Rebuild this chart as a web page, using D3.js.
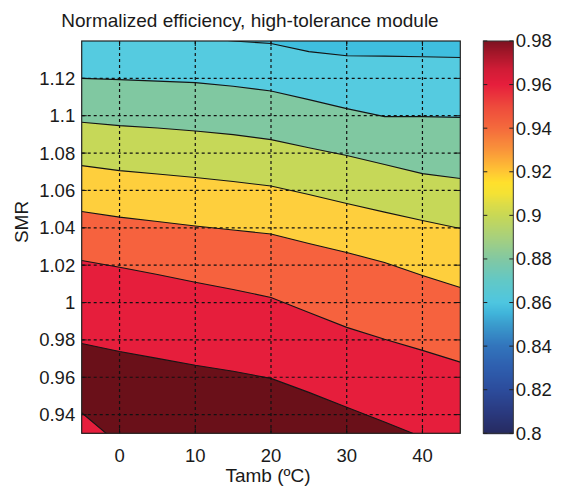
<!DOCTYPE html>
<html>
<head>
<meta charset="utf-8">
<script src="https://cdn.jsdelivr.net/npm/d3@7/dist/d3.min.js"></script>
<style>
  html, body { margin: 0; padding: 0; background: #ffffff; }
  svg { display: block; }
  text { font-family: "Liberation Sans", Arial, Helvetica, sans-serif; fill: #1a1a1a; }
</style>
</head>
<body>
<svg id="chart" width="563" height="487"></svg>
<script>
// ---------------- DATA ----------------
const chartTitle = "Normalized efficiency, high-tolerance module";
const xLabel = "Tamb (ºC)";
const yLabel = "SMR";
const xDomain = [-5, 45];
const yDomain = [0.93, 1.14];
const xTicks = [0, 10, 20, 30, 40];
const yTicks = [0.94, 0.96, 0.98, 1.00, 1.02, 1.04, 1.06, 1.08, 1.10, 1.12];
const cbDomain = [0.80, 0.98];
const cbTicks = [0.80, 0.82, 0.84, 0.86, 0.88, 0.90, 0.92, 0.94, 0.96, 0.98];

// Tamb sample points for the contour lines
const tamb = [-5, 0, 5, 10, 15, 20, 25, 30, 35, 40, 45];
// SMR position of each contour line at those Tamb values (top to bottom)
const lineA = [1.1480, 1.1460, 1.1440, 1.1420, 1.1400, 1.1387, 1.1343, 1.1321, 1.1319, 1.1316, 1.1312];
const lineB = [1.1200, 1.1193, 1.1185, 1.1177, 1.1158, 1.1132, 1.1086, 1.1038, 1.0995, 1.0995, 1.0991];
const lineC = [1.0965, 1.0947, 1.0934, 1.0918, 1.0899, 1.0872, 1.0829, 1.0787, 1.0739, 1.0690, 1.0664];
const lineD = [1.0733, 1.0706, 1.0688, 1.0669, 1.0648, 1.0624, 1.0578, 1.0530, 1.0484, 1.0439, 1.0396];
const lineE = [1.0487, 1.0457, 1.0434, 1.0410, 1.0388, 1.0367, 1.0316, 1.0268, 1.0214, 1.0145, 1.0081];
const lineF = [1.0225, 1.0189, 1.0150, 1.0109, 1.0070, 1.0027, 0.9947, 0.9867, 0.9803, 0.9744, 0.9681];
const lineG = [0.9781, 0.9738, 0.9701, 0.9664, 0.9632, 0.9594, 0.9519, 0.9439, 0.9361, 0.9279, 0.9198];
const lineH = [0.9410, 0.9239, 0.9070, 0.8900, 0.8730, 0.8560, 0.8390, 0.8220, 0.8050, 0.7880, 0.7710];

// fill colour of each band: band above lineA, then below A, B, ... H
const bandTop = "#3fbfdf";
const bandBelowA = "#55cbe0";
const bandBelowB = "#80c8a1";
const bandBelowC = "#c6d858";
const bandBelowD = "#fecf3d";
const bandBelowE = "#f6623e";
const bandBelowF = "#e61e3c";
const bandBelowG = "#6a1019";
const bandBelowH = "#e61e3c";

// colour bar stops
const cbStopValues = [0.800, 0.810, 0.820, 0.830, 0.840, 0.850, 0.855, 0.860, 0.870, 0.880, 0.890, 0.900, 0.905, 0.910, 0.915, 0.920, 0.930, 0.940, 0.950, 0.960, 0.967, 0.975, 0.980];
const cbStopColors = ["#262a60", "#2a3a80", "#2c4c9c", "#2e5eae", "#3274bc", "#3a9ccd", "#40b4da", "#4ec6e0", "#62c8c6", "#82c8a2", "#a8d07c", "#c8d855", "#dcdc48", "#f4e234", "#ffe02c", "#ffc634", "#f9943a", "#f46a3c", "#ee4a3c", "#e61e3c", "#d01c36", "#a01628", "#7c1220"];

// ---------------- LAYOUT ----------------
const plot = { left: 81.7, right: 460.3, top: 41, bottom: 433.3 };
const cb = { left: 483.3, right: 513.3, top: 41, bottom: 433.3 };

const svg = d3.select("#chart");
svg.append("rect").attr("width", 563).attr("height", 487).attr("fill", "#ffffff");

const x = d3.scaleLinear().domain(xDomain).range([plot.left, plot.right]);
const y = d3.scaleLinear().domain(yDomain).range([plot.bottom, plot.top]);

svg.append("clipPath").attr("id", "plotclip")
  .append("rect")
  .attr("x", plot.left).attr("y", plot.top)
  .attr("width", plot.right - plot.left).attr("height", plot.bottom - plot.top);

const g = svg.append("g").attr("clip-path", "url(#plotclip)");

// base band
g.append("rect")
  .attr("x", plot.left).attr("y", plot.top)
  .attr("width", plot.right - plot.left).attr("height", plot.bottom - plot.top)
  .attr("fill", bandTop);

const lines = [lineA, lineB, lineC, lineD, lineE, lineF, lineG, lineH];
const fills = [bandBelowA, bandBelowB, bandBelowC, bandBelowD, bandBelowE, bandBelowF, bandBelowG, bandBelowH];

const areaBelow = d3.area()
  .x(d => x(d[0]))
  .y0(y(yDomain[0]) + 40)
  .y1(d => y(d[1]));
const lineGen = d3.line()
  .x(d => x(d[0]))
  .y(d => y(d[1]));

lines.forEach((ln, i) => {
  const pts = tamb.map((t, k) => [t, ln[k]]);
  g.append("path").attr("d", areaBelow(pts)).attr("fill", fills[i]).attr("stroke", "none");
});
lines.forEach((ln) => {
  const pts = tamb.map((t, k) => [t, ln[k]]);
  g.append("path").attr("d", lineGen(pts))
    .attr("fill", "none").attr("stroke", "#151515").attr("stroke-width", 1.1);
});

// grid (dotted)
const grid = svg.append("g");
xTicks.forEach(v => {
  grid.append("line")
    .attr("x1", x(v)).attr("x2", x(v)).attr("y1", plot.top).attr("y2", plot.bottom)
    .attr("stroke", "#111").attr("stroke-width", 1.2).attr("stroke-dasharray", "3,3");
});
yTicks.forEach(v => {
  grid.append("line")
    .attr("x1", plot.left).attr("x2", plot.right).attr("y1", y(v)).attr("y2", y(v))
    .attr("stroke", "#111").attr("stroke-width", 1.2).attr("stroke-dasharray", "3,3");
});

// inward ticks on all sides
const tl = 5;
xTicks.forEach(v => {
  svg.append("line").attr("x1", x(v)).attr("x2", x(v)).attr("y1", plot.bottom).attr("y2", plot.bottom - tl).attr("stroke", "#111");
  svg.append("line").attr("x1", x(v)).attr("x2", x(v)).attr("y1", plot.top).attr("y2", plot.top + tl).attr("stroke", "#111");
});
yTicks.forEach(v => {
  svg.append("line").attr("x1", plot.left).attr("x2", plot.left + tl).attr("y1", y(v)).attr("y2", y(v)).attr("stroke", "#111");
  svg.append("line").attr("x1", plot.right).attr("x2", plot.right - tl).attr("y1", y(v)).attr("y2", y(v)).attr("stroke", "#111");
});

// axes box
svg.append("rect")
  .attr("x", plot.left).attr("y", plot.top)
  .attr("width", plot.right - plot.left).attr("height", plot.bottom - plot.top)
  .attr("fill", "none").attr("stroke", "#222").attr("stroke-width", 1.2);

// tick labels
const fmt = d3.format("~g");
svg.append("g").selectAll("text").data(yTicks).join("text")
  .attr("x", plot.left - 6.5).attr("y", d => y(d)).attr("dy", "0.35em")
  .attr("text-anchor", "end").attr("font-size", 18.5).text(d => fmt(d));
svg.append("g").selectAll("text").data(xTicks).join("text")
  .attr("x", d => x(d)).attr("y", 461.7)
  .attr("text-anchor", "middle").attr("font-size", 18.5).text(d => fmt(d));

// axis labels & title
svg.append("text").attr("x", 268).attr("y", 481.5).attr("text-anchor", "middle")
  .attr("font-size", 19).text(xLabel);
svg.append("text").attr("transform", "translate(28,222) rotate(-90)").attr("text-anchor", "middle")
  .attr("font-size", 19).text(yLabel);
svg.append("text").attr("x", 250).attr("y", 27).attr("text-anchor", "middle")
  .attr("font-size", 19).text(chartTitle);

// colour bar
const cy = d3.scaleLinear().domain(cbDomain).range([cb.bottom, cb.top]);
const cmap = d3.scaleLinear().domain(cbStopValues).range(cbStopColors).interpolate(d3.interpolateRgb);
const cbSteps = d3.range(Math.floor(cb.top), Math.ceil(cb.bottom));
svg.append("g").selectAll("rect").data(cbSteps).join("rect")
  .attr("x", cb.left).attr("width", cb.right - cb.left)
  .attr("y", d => d).attr("height", 1.2)
  .attr("fill", d => cmap(Math.max(cbDomain[0], Math.min(cbDomain[1], cy.invert(d + 0.5)))));
svg.append("rect")
  .attr("x", cb.left).attr("y", cb.top)
  .attr("width", cb.right - cb.left).attr("height", cb.bottom - cb.top)
  .attr("fill", "none").attr("stroke", "#333").attr("stroke-width", 1);
cbTicks.forEach(v => {
  svg.append("line").attr("x1", cb.left).attr("x2", cb.left + 4).attr("y1", cy(v)).attr("y2", cy(v)).attr("stroke", "#222");
  svg.append("line").attr("x1", cb.right).attr("x2", cb.right - 4).attr("y1", cy(v)).attr("y2", cy(v)).attr("stroke", "#222");
});
svg.append("g").selectAll("text").data(cbTicks).join("text")
  .attr("x", cb.right + 2.5).attr("y", d => cy(d)).attr("dy", "0.35em")
  .attr("text-anchor", "start").attr("font-size", 18.5).text(d => fmt(d));
</script>
</body>
</html>
